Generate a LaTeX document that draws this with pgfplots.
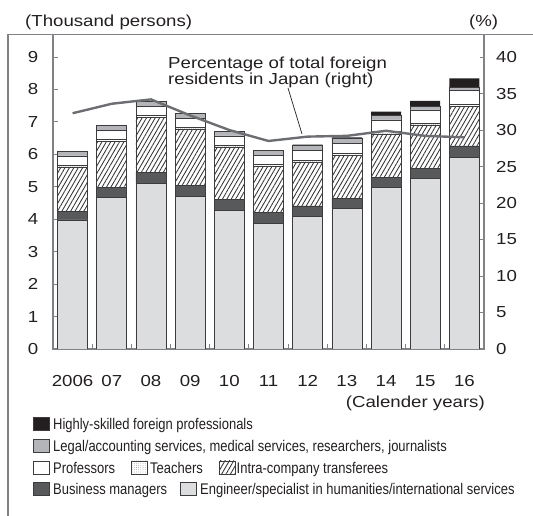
\documentclass[border=0pt]{standalone}
\usepackage{fontspec}
\setmainfont{Liberation Sans}[FakeStretch=1.17]
\newfontfamily\legfont{Liberation Sans}[FakeStretch=0.84]
\usepackage{pgfplots}
\usepackage{pgfplotstable}
\pgfplotsset{compat=1.18}
\usetikzlibrary{patterns,patterns.meta}
\definecolor{txt}{HTML}{231F20}
\definecolor{engc}{HTML}{DCDDDF}
\definecolor{bmc}{HTML}{58595B}
\definecolor{legc}{HTML}{B3B5B8}
\definecolor{hsc}{HTML}{231F20}
\definecolor{barc}{HTML}{3C3C3E}
\definecolor{hatchc}{HTML}{333335}
\definecolor{dotc}{HTML}{6A6A6C}
\definecolor{linec}{HTML}{6D6E71}
\definecolor{axc}{HTML}{808285}

\pgfplotstableread{
x E BM IC T P L HS pct
0 3.98 0.25 1.37 0.07 0.28 0.15 0 32.3
1 4.68 0.29 1.42 0.08 0.28 0.15 0 33.6
2 5.11 0.34 1.68 0.08 0.28 0.15 0 34.2
3 4.70 0.34 1.73 0.06 0.28 0.16 0 32.0
4 4.26 0.35 1.60 0.06 0.30 0.15 0 30.0
5 3.87 0.33 1.42 0.06 0.29 0.14 0 28.5
6 4.08 0.33 1.35 0.06 0.31 0.15 0.02 29.1
7 4.34 0.31 1.31 0.06 0.32 0.14 0.04 29.2
8 4.98 0.31 1.34 0.07 0.36 0.13 0.13 29.9
9 5.25 0.32 1.33 0.06 0.41 0.12 0.16 29.2
10 5.91 0.35 1.21 0.06 0.43 0.11 0.27 29.0
}\datatable

\newcommand\legentry[5]{%
  \draw[draw=barc, line width=0.7bp, #3] (#1,#2-6.5) rectangle (#1+16,#2+6.5);
  \node[anchor=base west, inner sep=0pt, font=\legfont\fontsize{15.5}{18}\selectfont] at (#4,#2-5.5) {#5};}

\begin{document}
\begin{tikzpicture}[font=\fontsize{16}{19}\selectfont, text=txt]
\useasboundingbox (0,0) rectangle (533bp,516bp);
\begin{axis}[
  at={(53bp,167bp)}, anchor=south west,
  scale only axis, width=431bp, height=314.5bp,
  xmin=-0.5, xmax=10.5, ymin=0, ymax=9.695,
  ybar stacked, bar width=30bp,
  axis line style={draw=axc, line width=1.1bp},
  tick align=inside, major tick length=4.5bp,
  tick style={draw=axc, line width=0.9bp},
  ytick={0,...,9}, ytick pos=left,
  yticklabel style={anchor=east, inner sep=0pt, xshift=-14.5bp},
  xtick={0.5,1.5,...,9.5}, xticklabels={}, xtick pos=bottom,
  extra x ticks={0,...,10},
  extra x tick labels={2006,07,08,09,10,11,12,13,14,15,16},
  extra x tick style={tick style={draw=none}},
  xticklabel style={anchor=base, inner sep=0pt, yshift=-38bp},
  /pgf/number format/assume math mode=true,
]
\addplot[fill=engc, draw=barc, line width=0.7bp] table[x=x,y=E]{\datatable};
\addplot[fill=bmc, draw=barc, line width=0.7bp] table[x=x,y=BM]{\datatable};
\addplot[pattern={Lines[angle=60,distance=3.8bp,line width=0.85bp]}, pattern color=hatchc, draw=barc, line width=0.7bp] table[x=x,y=IC]{\datatable};
\addplot[pattern={Dots[distance=2.2bp,radius=0.35bp]}, pattern color=dotc, draw=barc, line width=0.7bp] table[x=x,y=T]{\datatable};
\addplot[fill=white, draw=barc, line width=0.7bp] table[x=x,y=P]{\datatable};
\addplot[fill=legc, draw=barc, line width=0.7bp] table[x=x,y=L]{\datatable};
\addplot[fill=hsc, draw=none] table[x=x,y=HS]{\datatable};
\end{axis}
\begin{axis}[
  at={(53bp,167bp)}, anchor=south west,
  scale only axis, width=431bp, height=314.5bp,
  xmin=-0.5, xmax=10.5, ymin=0, ymax=43.09,
  axis y line*=right, axis x line=none,
  axis line style={draw=axc, line width=1.1bp},
  tick align=inside, major tick length=4.5bp,
  tick style={draw=axc, line width=0.9bp},
  ytick={0,5,...,40},
  yticklabel style={anchor=west, inner sep=0pt, xshift=12bp},
  /pgf/number format/assume math mode=true,
]
\addplot[linec, line width=2.4bp, line join=round, mark=none] table[x=x,y=pct]{\datatable};
\end{axis}
\begin{scope}[x=1bp,y=1bp]
\draw[axc, line width=1.1bp] (8,481.5) -- (533,481.5);
\draw[axc, line width=1.1bp] (8,481.5) -- (8,0);
\draw[txt, line width=0.7bp] (288,428) -- (302,382);
\node[anchor=base west, inner sep=0pt] at (168,447) {Percentage of total foreign};
\node[anchor=base west, inner sep=0pt] at (168,431) {residents in Japan (right)};
\node[anchor=base west, inner sep=0pt] at (25,489) {(Thousand persons)};
\node[anchor=base west, inner sep=0pt] at (469,489) {(\%)};
\node[anchor=base east, inner sep=0pt] at (485,109) {(Calender years)};
\legentry{33}{92}{fill=hsc}{53}{Highly-skilled foreign professionals}
\legentry{33}{70}{fill=legc}{53}{Legal/accounting services, medical services, researchers, journalists}
\legentry{33}{48.5}{fill=white}{53}{Professors}
\legentry{131.7}{48.5}{pattern={Dots[distance=2.2bp,radius=0.35bp]}, pattern color=dotc}{150}{Teachers}
\legentry{219}{48.5}{pattern={Lines[angle=60,distance=3.8bp,line width=0.85bp]}, pattern color=hatchc}{236.5}{Intra-company transferees}
\legentry{33}{27}{fill=bmc}{53}{Business managers}
\legentry{180.5}{27}{fill=engc}{200}{Engineer/specialist in humanities/international services}
\end{scope}
\end{tikzpicture}
\end{document}
